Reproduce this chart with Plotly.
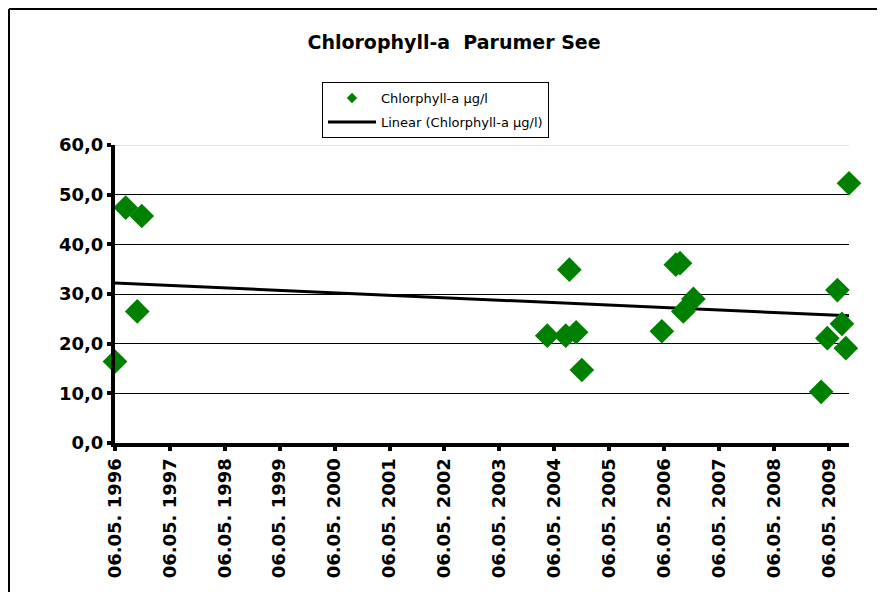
import numpy as np
import pandas as pd
import plotly.graph_objects as go

# Chlorophyll-a samples (date, µg/l)
sample_dates = [
    "1996-05-06", "1996-07-16", "1996-10-01", "1996-10-31",
    "2004-03-20", "2004-07-21", "2004-08-14", "2004-09-28", "2004-11-05",
    "2006-04-21", "2006-07-23", "2006-08-20", "2006-09-11", "2006-11-17",
    "2009-03-16", "2009-04-26", "2009-07-02", "2009-08-01", "2009-08-27",
    "2009-09-17",
]
chl_values = [
    16.4, 47.4, 26.5, 45.7,
    21.6, 21.6, 34.9, 22.3, 14.7,
    22.5, 35.9, 36.2, 26.5, 29.0,
    10.3, 21.1, 30.8, 24.0, 19.1,
    52.3,
]
tick_years = list(range(1996, 2010))
tick_dates = [f"{y}-05-06" for y in tick_years]
tick_labels = [f"06.05. {y}" for y in tick_years]
y_ticks = [0, 10, 20, 30, 40, 50, 60]
y_labels = ["0,0", "10,0", "20,0", "30,0", "40,0", "50,0", "60,0"]

GREEN = "#008000"
FONT = "DejaVu Sans"

# linear trend over the whole axis (like Excel's trendline)
d = pd.to_datetime(sample_dates)
days = (d - d[0]).days.values.astype(float)
slope, icpt = np.polyfit(days, chl_values, 1)
trend_x = [d[0], d[-1]]
trend_y = [icpt, icpt + slope * days[-1]]

fig = go.Figure()

fig.add_trace(go.Scatter(
    x=trend_x, y=trend_y, mode="lines",
    line=dict(color="black", width=3),
    showlegend=False, hoverinfo="skip",
))
fig.add_trace(go.Scatter(
    x=sample_dates, y=chl_values, mode="markers",
    marker=dict(symbol="diamond", size=19, color=GREEN),
    cliponaxis=False, showlegend=False,
))
# legend-only entries (small symbols)
fig.add_trace(go.Scatter(
    x=[None], y=[None], mode="markers", name="Chlorphyll-a µg/l",
    marker=dict(symbol="diamond", size=8, color=GREEN), legendgroup="a",
))
fig.add_trace(go.Scatter(
    x=[None], y=[None], mode="lines", name="Linear (Chlorphyll-a µg/l)",
    line=dict(color="black", width=3), legendgroup="b",
))

# page body adds an 8px offset, so the figure is 8px smaller and shifted
fig.update_layout(
    width=877, height=584,
    margin=dict(l=107, r=36, t=137, b=149),
    paper_bgcolor="white", plot_bgcolor="white",
    font=dict(family=FONT, color="black"),
    title=dict(
        text="<b>Chlorophyll-a\u00a0 Parumer See</b>",
        font=dict(size=19, family=FONT, color="black"),
        x=0.5086, xref="container", xanchor="center",
        y=0.9418, yref="container", yanchor="middle",
    ),
    legend=dict(
        x=0.282, y=1.211, xanchor="left", yanchor="top",
        bordercolor="black", borderwidth=1, bgcolor="white",
        font=dict(size=13, family=FONT, color="black"),
        itemwidth=48, tracegroupgap=4,
    ),
    showlegend=True,
)

fig.update_xaxes(
    type="date", range=[sample_dates[0], sample_dates[-1]],
    tickvals=tick_dates, ticktext=tick_labels, tickangle=-90,
    tickfont=dict(size=18, family=FONT, color="black", weight="bold"),
    showgrid=False, zeroline=False,
    showline=True, linecolor="black", linewidth=4,
    ticks="outside", ticklen=4, tickwidth=4, tickcolor="black",
)
fig.update_yaxes(
    range=[0, 60], tickvals=y_ticks, ticktext=y_labels,
    tickfont=dict(size=18, family=FONT, color="black", weight="bold"),
    showgrid=True, gridcolor="black", gridwidth=1, zeroline=False,
    showline=True, linecolor="black", linewidth=4,
    ticks="outside", ticklen=4, tickwidth=4, tickcolor="black",
)

# light top edge of plot area at 60 and outer chart border
fig.add_shape(type="line", xref="paper", yref="y", x0=0, x1=1, y0=60, y1=60,
              line=dict(color="#c8c8c8", width=1), layer="above")
fig.add_shape(type="line", xref="paper", yref="paper", x0=-0.1444, x1=-0.1444,
              y0=-0.6, y1=1.456, line=dict(color="black", width=2))
fig.add_shape(type="line", xref="paper", yref="paper", x0=-0.1444, x1=1.1,
              y0=1.456, y1=1.456, line=dict(color="black", width=2))

fig.write_html("out.html")
